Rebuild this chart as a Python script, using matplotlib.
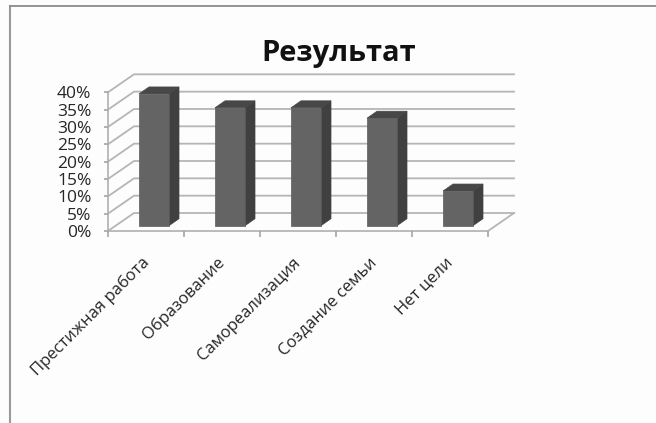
import numpy as np
from matplotlib import pyplot as plt
from matplotlib.patches import Polygon
from matplotlib.ticker import PercentFormatter
from matplotlib.transforms import ScaledTranslation

plt.rcParams['font.family'] = ['Open Sans', 'DejaVu Sans']

title = "Результат"
categories = ["Престижная работа", "Образование", "Самореализация", "Создание семьи", "Нет цели"]
values = [38, 34, 34, 31, 10]
y_ticks = list(range(0, 45, 5))

W, H = 656, 423
# oblique depth of the box, in data units
depth_x = 26 / 76
depth_y = 18 / 17.35 * 5
bar_w = 30 / 76
bar_dx = 10 / 76
bar_dy = 7 / 17.35 * 5
bar_base_x = 31 / 76
bar_base_y = 5.3 / 17.35 * 5

fig = plt.figure(figsize=(W / 100, H / 100), dpi=100, facecolor="#fdfdfd")
ax = fig.add_axes([108 / W, 1 - 231 / H, 380 / W, 138.7 / H])
ax.set_xlim(0, len(categories))
ax.set_ylim(0, 40)
ax.patch.set_alpha(0)
for s in ax.spines.values():
    s.set_visible(False)

grid = dict(color="#b5b5b5", lw=1.3, clip_on=False, zorder=1)
n = len(categories)
for y in y_ticks:
    ax.plot([0, depth_x, n + depth_x], [y, y + depth_y, y + depth_y], **grid)
ax.plot([0, 0], [0, 40], **grid)
ax.plot([0, n, n + depth_x], [0, 0, depth_y], **grid)

for i, v in enumerate(values):
    x0 = i + bar_base_x
    x1 = x0 + bar_w
    y0 = bar_base_y
    y1 = y0 + v
    front = [(x0, y0), (x1, y0), (x1, y1), (x0, y1)]
    side = [(x1, y0), (x1 + bar_dx, y0 + bar_dy), (x1 + bar_dx, y1 + bar_dy), (x1, y1)]
    top = [(x0, y1), (x1, y1), (x1 + bar_dx, y1 + bar_dy), (x0 + bar_dx, y1 + bar_dy)]
    ax.add_patch(Polygon(side, fc="#404040", ec="#404040", lw=0.5, clip_on=False, zorder=3))
    ax.add_patch(Polygon(top, fc="#474747", ec="#474747", lw=0.5, clip_on=False, zorder=3))
    ax.add_patch(Polygon(front, fc="#646464", ec="#5a5a5a", lw=0.5, clip_on=False, zorder=4))

ax.set_yticks(y_ticks)
ax.yaxis.set_major_formatter(PercentFormatter(decimals=0))
ax.tick_params(axis="y", length=3, width=1.2, color="#a5a5a5", labelsize=12.5, labelcolor="#262626", pad=9)

ax.set_xticks(np.arange(n + 1), minor=True)
ax.set_xticks(np.arange(n) + 0.5)
ax.set_xticklabels(categories, rotation=45, ha="right", va="top", rotation_mode="anchor")
ax.tick_params(axis="x", which="minor", length=4, width=1.2, color="#a5a5a5")
ax.tick_params(axis="x", which="major", length=0, labelsize=12, labelcolor="#262626", pad=17)
# labels sit a little left of the category centre
shift = ScaledTranslation(-5 / 100, 0, fig.dpi_scale_trans)
for lab in ax.get_xticklabels():
    lab.set_transform(lab.get_transform() + shift)

fig.text(339 / W, 1 - 53 / H, title, ha="center", va="center", fontsize=21, fontweight="bold", color="#111111")

# outer frame of the screenshot, only top and left are visible
fig.add_artist(plt.Line2D([10 / W, 10 / W], [0, 1 - 6.5 / H], color="#9a9a9a", lw=1.5))
fig.add_artist(plt.Line2D([10 / W, 1], [1 - 6.5 / H, 1 - 6.5 / H], color="#8c8c8c", lw=1.3))

fig.savefig("out.png", dpi=100, facecolor=fig.get_facecolor())
